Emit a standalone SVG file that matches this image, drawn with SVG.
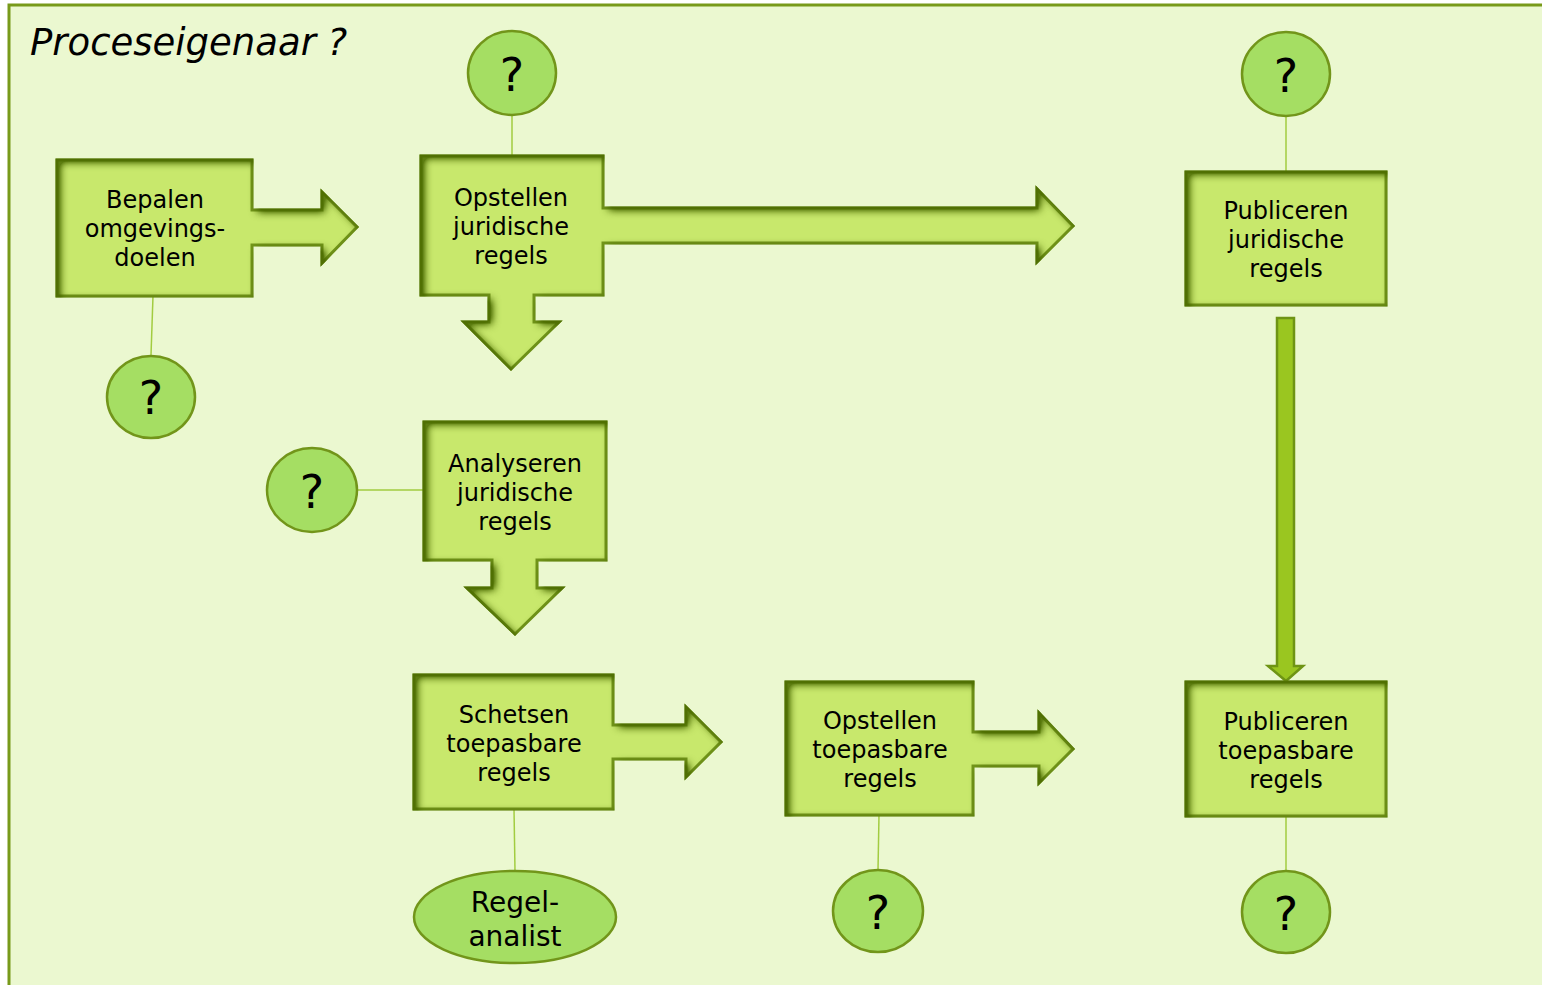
<svg xmlns="http://www.w3.org/2000/svg" width="1542" height="985" viewBox="0 0 1542 985">
<defs>
<filter id="inner" x="-10%" y="-10%" width="120%" height="120%" color-interpolation-filters="sRGB">
<feComponentTransfer in="SourceAlpha" result="inv"><feFuncA type="linear" slope="-1" intercept="1"/></feComponentTransfer>
<feGaussianBlur in="inv" stdDeviation="4" result="blur"/>
<feOffset in="blur" dx="4" dy="3" result="off"/>
<feComponentTransfer in="off" result="sh"><feFuncA type="linear" slope="1.8" intercept="0"/></feComponentTransfer>
<feFlood flood-color="#4a6a00" flood-opacity="0.85" result="col"/>
<feComposite in="col" in2="sh" operator="in" result="colsh"/>
<feComposite in="colsh" in2="SourceAlpha" operator="in" result="ins"/>
<feMerge><feMergeNode in="SourceGraphic"/><feMergeNode in="ins"/></feMerge>
</filter>
</defs>
<style>
.frame{fill:#ebf8d0;stroke:#789a1a;stroke-width:3}
.box{fill:#c8e86c;stroke:#72951a;stroke-width:3;stroke-linejoin:miter}
.role{fill:#a5de63;stroke:#72951a;stroke-width:2.5}
.lbl{font-family:"DejaVu Sans","Verdana",sans-serif;font-size:24px;fill:#000;text-anchor:middle}
.q{font-family:"DejaVu Sans","Verdana",sans-serif;font-size:46px;fill:#000;text-anchor:middle}
.rl{font-family:"DejaVu Sans","Verdana",sans-serif;font-size:28px;fill:#000;text-anchor:middle}
.title{font-family:"DejaVu Sans","Verdana",sans-serif;font-size:37px;font-style:italic;fill:#000}
.link{stroke:#a2cc40;stroke-width:1.5;fill:none}
.bigarrow{fill:#9ac620;stroke:#6e9414;stroke-width:2.5}
</style>
<rect class="frame" x="9" y="5" width="1545" height="995"/>
<text class="title" x="30" y="55">Proceseigenaar ?</text>

<g id="connectors">
<line class="link" x1="153" y1="296" x2="151" y2="355"/>
<line class="link" x1="512" y1="115" x2="512" y2="156"/>
<line class="link" x1="1286" y1="116" x2="1286" y2="172"/>
<line class="link" x1="357" y1="490" x2="424" y2="490"/>
<line class="link" x1="514" y1="809" x2="515" y2="871"/>
<line class="link" x1="879" y1="815" x2="878" y2="870"/>
<line class="link" x1="1286" y1="816" x2="1286" y2="871"/>
<path class="bigarrow" d="M1277,318 H1294 V666 H1303 L1286,681 L1268,666 H1277 Z"/>
</g>

<g id="n-bepalen">
<path class="box" filter="url(#inner)" d="M57,160 H252 V210 H322 V192 L357,227 L322,263 V245 H252 V296 H57 Z"/>
<text class="lbl" x="155" y="208">Bepalen</text>
<text class="lbl" x="155" y="237">omgevings-</text>
<text class="lbl" x="155" y="266">doelen</text>
</g>

<g id="n-opstellen-jur">
<path class="box" filter="url(#inner)" d="M421,156 H603 V208 H1037 V189 L1073,226 L1037,262 V243 H603 V295 H534 V322 H559 L511,369 L464,322 H489 V295 H421 Z"/>
<text class="lbl" x="511" y="206">Opstellen</text>
<text class="lbl" x="511" y="235">juridische</text>
<text class="lbl" x="511" y="264">regels</text>
</g>

<g id="n-publiceren-jur">
<rect class="box" filter="url(#inner)" x="1186" y="172" width="200" height="133"/>
<text class="lbl" x="1286" y="219">Publiceren</text>
<text class="lbl" x="1286" y="248">juridische</text>
<text class="lbl" x="1286" y="277">regels</text>
</g>

<g id="n-analyseren">
<path class="box" filter="url(#inner)" d="M424,422 H606 V560 H537 V588 H562 L515,634 L467,588 H492 V560 H424 Z"/>
<text class="lbl" x="515" y="472">Analyseren</text>
<text class="lbl" x="515" y="501">juridische</text>
<text class="lbl" x="515" y="530">regels</text>
</g>

<g id="n-schetsen">
<path class="box" filter="url(#inner)" d="M414,675 H613 V725 H686 V707 L721,742 L686,777 V759 H613 V809 H414 Z"/>
<text class="lbl" x="514" y="723">Schetsen</text>
<text class="lbl" x="514" y="752">toepasbare</text>
<text class="lbl" x="514" y="781">regels</text>
</g>

<g id="n-opstellen-toe">
<path class="box" filter="url(#inner)" d="M786,682 H973 V732 H1039 V713 L1073,749 L1039,783 V766 H973 V815 H786 Z"/>
<text class="lbl" x="880" y="729">Opstellen</text>
<text class="lbl" x="880" y="758">toepasbare</text>
<text class="lbl" x="880" y="787">regels</text>
</g>

<g id="n-publiceren-toe">
<rect class="box" filter="url(#inner)" x="1186" y="682" width="200" height="134"/>
<text class="lbl" x="1286" y="730">Publiceren</text>
<text class="lbl" x="1286" y="759">toepasbare</text>
<text class="lbl" x="1286" y="788">regels</text>
</g>

<g id="r-bepalen">
<ellipse class="role" cx="151" cy="397" rx="44" ry="41"/>
<text class="q" x="151" y="414">?</text>
</g>
<g id="r-opstellen-jur">
<ellipse class="role" cx="512" cy="73" rx="44" ry="42"/>
<text class="q" x="512" y="91">?</text>
</g>
<g id="r-publiceren-jur">
<ellipse class="role" cx="1286" cy="74" rx="44" ry="42"/>
<text class="q" x="1286" y="92">?</text>
</g>
<g id="r-analyseren">
<ellipse class="role" cx="312" cy="490" rx="45" ry="42"/>
<text class="q" x="312" y="508">?</text>
</g>
<g id="r-schetsen">
<ellipse class="role" cx="515" cy="917" rx="101" ry="46"/>
<text class="rl" x="515" y="912">Regel-</text>
<text class="rl" x="515" y="946">analist</text>
</g>
<g id="r-opstellen-toe">
<ellipse class="role" cx="878" cy="911" rx="45" ry="41"/>
<text class="q" x="878" y="929">?</text>
</g>
<g id="r-publiceren-toe">
<ellipse class="role" cx="1286" cy="912" rx="44" ry="41"/>
<text class="q" x="1286" y="930">?</text>
</g>
</svg>
